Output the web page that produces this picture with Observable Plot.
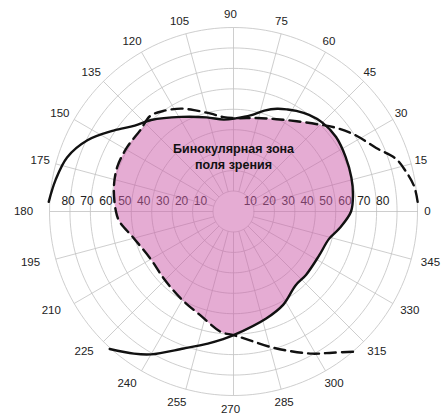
<!DOCTYPE html>
<html>
<head>
<meta charset="utf-8">
<script src="https://cdn.jsdelivr.net/npm/d3@7"></script>
<script src="https://cdn.jsdelivr.net/npm/@observablehq/plot@0.6"></script>
<style>
  html, body { margin: 0; padding: 0; background: #ffffff; }
  #chart { width: 444px; height: 416px; }
</style>
</head>
<body>
<div id="chart"></div>
<script>
// ---------- data ----------
const ringValues  = [10, 20, 30, 40, 50, 60, 70, 80, 90];
const scaleTicks  = [10, 20, 30, 40, 50, 60, 70, 80];
const spokeAngles = [0, 15, 30, 45, 60, 75, 90, 105, 120, 135, 150, 165,
                     180, 195, 210, 225, 240, 255, 270, 285, 300, 315, 330, 345];
const angleLabels = ["0", "15", "30", "45", "60", "75", "90", "105", "120", "135", "150", "175",
                     "180", "195", "210", "225", "240", "255", "270", "285", "300", "315", "330", "345"];

// solid curve (one eye), degrees counter-clockwise from the right, radius in degrees of field
const solidAngle  = [228, 235, 240, 250, 259, 265, 270, 287, 298, 310, 319, 333, 344, 351,
                     0, 8, 16, 26, 36, 45, 52, 58, 62, 67, 73, 80, 88, 96, 106, 119, 132, 139, 146, 154, 162, 170, 177];
const solidRadius = [90.5, 84.9, 80.7, 71.3, 65.8, 62.8, 60.5, 54.7, 51.7, 47.2, 47.1, 47.1, 48.6, 52.5,
                     57.5, 59, 60, 61, 62, 61.5, 60, 58, 56.5, 54.6, 51.6, 47.7, 45.7, 45.2, 47.9, 52.9, 60.2, 64, 70.8, 79.5, 85.6, 88.4, 90.5];

// dashed curve (other eye)
const dashedAngle  = [3, 8, 13, 18, 24, 32, 39, 46, 55, 65, 76, 88, 96, 103, 110, 117, 125, 131, 139, 149,
                      159, 168.5, 180, 185, 195, 210, 224, 239, 252, 264, 270, 277, 285, 292, 299, 305, 311];
const dashedRadius = [90.2, 89.2, 86.6, 83.5, 76.4, 70.4, 64.9, 59.3, 53.9, 49.8, 47.1, 45.7, 46.4, 49.1, 52.5, 56.5, 60, 62, 60.5, 60.8,
                      60.9, 59.7, 57.5, 56, 50.5, 46.7, 47.3, 49.8, 53.2, 59.2, 60.5, 63.4, 68.5, 73.6, 79.5, 84.3, 90.8];

// binocular zone boundary (filled)
const zoneAngle  = [0, 8, 16, 26, 36, 42, 46, 55, 65, 76, 88, 96, 106, 119, 132, 139, 149, 159, 168.5,
                    180, 185, 195, 210, 224, 239, 252, 264, 270, 287, 298, 310, 319, 333, 344, 351];
const zoneRadius = [57.5, 59, 60, 61, 62, 61, 59.3, 53.9, 49.8, 47.1, 45.7, 45.2, 47.9, 52.9, 60.2, 60.5, 60.8, 60.9, 59.7,
                    57.5, 56, 50.5, 46.7, 47.3, 49.8, 53.2, 59.2, 60.5, 54.7, 51.7, 47.2, 47.1, 47.1, 48.6, 52.5];

const zoneTitle = ["Бинокулярная зона", "поля зрения"];

// ---------- layout ----------
const W = 444, H = 416;
const CX = 233, CY = 211;      // pixel centre of the polar grid
const R = 184, RMAX = 90;      // outer ring radius in px and in data units
const K = R / RMAX;            // px per data unit
const FONT = "'Liberation Sans', Arial, Helvetica, sans-serif";

const rad = a => a * Math.PI / 180;
const P = (a, r) => ({x: r * Math.cos(rad(a)), y: r * Math.sin(rad(a))});

const polarRows = (angles, radii) => angles.map((a, i) => ({a, r: radii[i], ...P(a, radii[i])}));
const solidPts  = polarRows(solidAngle, solidRadius);
const dashedPts = polarRows(dashedAngle, dashedRadius);
const zonePts   = polarRows(zoneAngle, zoneRadius);

// grid circles as polylines
const circlePts = ringValues.flatMap(v => d3.range(0, 361, 2).map(a => ({ring: v, ...P(a, v)})));

// angle-label placement (style): upper labels on a circle, lower ones on a slightly wider ellipse
const labelPos = a => {
  const s = Math.sin(rad(a)), c = Math.cos(rad(a));
  const lower = s < -0.01 || c < -0.99;
  const rx = (lower ? 207 : 197) / K, ry = (lower ? 198 : 197) / K;
  return {x: rx * c - 3 / K, y: ry * s};
};

// ring-value labels along the horizontal axis
const LABEL_STEP = 0.925;
const rightLabelX = v => v * LABEL_STEP - 1;
const leftLabelX  = v => -(v * LABEL_STEP + 6.9);

const titlePos = P(90, 27.4);

const chart = Plot.plot({
  width: W,
  height: H,
  margin: 0,
  x: {type: "linear", domain: [-CX / K, (W - CX) / K], range: [0, W], axis: null},
  y: {type: "linear", domain: [-(H - CY) / K, CY / K], range: [H, 0], axis: null},
  style: {fontFamily: FONT, background: "#ffffff"},
  marks: [
    // grid
    Plot.line(circlePts, {x: "x", y: "y", z: "ring", stroke: "#c2c2c2", strokeWidth: 0.8}),
    Plot.link(spokeAngles, {
      x1: a => P(a, ringValues[0]).x, y1: a => P(a, ringValues[0]).y,
      x2: a => P(a, RMAX).x, y2: a => P(a, RMAX).y,
      stroke: "#c2c2c2", strokeWidth: 0.8
    }),
    // ring value labels
    Plot.text(scaleTicks, {x: rightLabelX, y: () => 0, dy: -10, text: d => String(d),
      fontSize: 12, fill: "#222", textAnchor: "middle", lineAnchor: "middle"}),
    Plot.text(scaleTicks, {x: leftLabelX, y: () => 0, dy: -10, text: d => String(d),
      fontSize: 12, fill: "#222", textAnchor: "middle", lineAnchor: "middle"}),
    // angle labels
    Plot.text(spokeAngles, {x: a => labelPos(a).x, y: a => labelPos(a).y, text: (a, i) => angleLabels[i],
      fontSize: 11.5, fill: "#222", textAnchor: "middle", lineAnchor: "middle"}),
    // binocular zone (translucent pink over the grid)
    Plot.line(zonePts, {x: "x", y: "y", curve: "catmull-rom-closed",
      fill: "#cc5aa8", fillOpacity: 0.5, stroke: "none"}),
    // monocular field boundaries
    Plot.line(dashedPts, {x: "x", y: "y", curve: "catmull-rom",
      stroke: "#111", strokeWidth: 2.4, strokeDasharray: "11,6"}),
    Plot.line(solidPts, {x: "x", y: "y", curve: "catmull-rom",
      stroke: "#111", strokeWidth: 2.4}),
    // title inside the zone
    Plot.text([zoneTitle.join("\n")], {x: () => titlePos.x, y: () => titlePos.y,
      text: d => d, fontSize: 12.5, fontWeight: "bold", fill: "#111",
      textAnchor: "middle", lineAnchor: "middle", lineHeight: 1.3})
  ]
});

document.getElementById("chart").appendChild(chart);
</script>
</body>
</html>
